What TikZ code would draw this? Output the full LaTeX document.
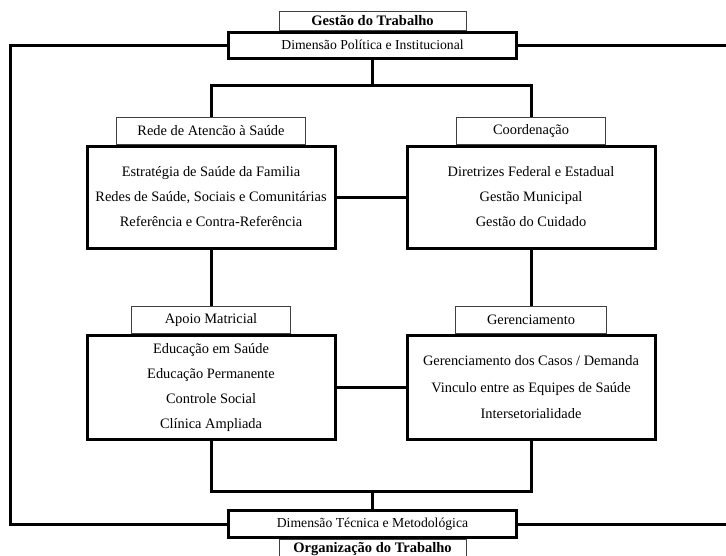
\documentclass[tikz,border=0pt]{standalone}
\usepackage{fontspec}
\setmainfont{Liberation Serif}
\usetikzlibrary{positioning}
\tikzset{%
  % Specifications for style of nodes:
        base/.style = {rectangle, fill=white, inner sep=0pt,
                       text centered, font=\fontsize{14.4}{25}\selectfont},
      tagBox/.style = {base, draw=black!75, line width=0.9pt,
                       minimum height=27pt},
       panel/.style = {base, draw=black, line width=3pt, align=center},
      dimBox/.style = {base, draw=black, line width=3pt,
                       minimum width=288pt, minimum height=26pt,
                       font=\fontsize{13.7}{15}\selectfont},
     boldTag/.style = {tagBox, minimum width=187pt, minimum height=19pt,
                       font=\fontsize{14.5}{15}\selectfont\bfseries},
        wire/.style = {draw=black, line width=3pt},
}
\begin{document}
\begin{tikzpicture}[x=1pt, y=-1pt]
\useasboundingbox (0,0) rectangle (726,555);

\node (DPI)  [dimBox] at (372.5,45)   {Dimensão Política e Institucional};
\node (GT)   [boldTag, above=0pt of DPI] {Gestão do Trabalho};

\node (B1)   [panel, minimum width=248pt, minimum height=102pt] at (211,197)
             {Estratégia de Saúde da Familia\\
              Redes de Saúde, Sociais e Comunitárias\\
              Referência e Contra-Referência};
\node (L1)   [tagBox, minimum width=189pt, above=0pt of B1] {Rede de Atencão à Saúde};

\node (B2)   [panel, minimum width=248pt, minimum height=102pt] at (531,197)
             {Diretrizes Federal e Estadual\\
              Gestão Municipal\\
              Gestão do Cuidado};
\node (L2)   [tagBox, minimum width=149pt, above=0pt of B2] {Coordenação};

\node (B3)   [panel, minimum width=248pt, minimum height=104pt] at (211,387.5)
             {Educação em Saúde\\
              Educação Permanente\\
              Controle Social\\
              Clínica Ampliada};
\node (L3)   [tagBox, minimum width=159pt, above=0pt of B3] {Apoio Matricial};

\node (B4)   [panel, minimum width=248pt, minimum height=104pt,
              font=\fontsize{14.4}{26.5}\selectfont] at (531,387.5)
             {Gerenciamento dos Casos / Demanda\\
              Vinculo entre as Equipes de Saúde\\
              Intersetorialidade};
\node (L4)   [tagBox, minimum width=151pt, above=0pt of B4] {Gerenciamento};

\node (DTM)  [dimBox, minimum height=27pt] at (372.5,524) {Dimensão Técnica e Metodológica};
\node (OT)   [boldTag, minimum height=20pt, below=0pt of DTM] {Organização do Trabalho};

% junctions and free ends of the frame
\coordinate (hubT)   at (DPI.south |- 0,85);
\coordinate (hubB)   at (DTM.north |- 0,491);
\coordinate (leftT)  at (10,45);
\coordinate (leftB)  at (10,524);
\coordinate (rightT) at (727,45);
\coordinate (rightB) at (727,524);

\draw[wire] (DPI.south) -- (hubT);
\draw[wire] (L1.north) |- (hubT) -| (L2.north);
\draw[wire] (B1.east) -- (B2.west);
\draw[wire] (B1.south) -- (L3.north);
\draw[wire] (B2.south) -- (L4.north);
\draw[wire] (B3.east) -- (B4.west);
\draw[wire] (B3.south) |- (hubB) -| (B4.south);
\draw[wire] (hubB) -- (DTM.north);
\draw[wire] (DPI.west) -- (leftT) -- (leftB) -- (DTM.west);
\draw[wire] (DPI.east) -- (rightT);
\draw[wire] (DTM.east) -- (rightB);
\end{tikzpicture}
\end{document}
